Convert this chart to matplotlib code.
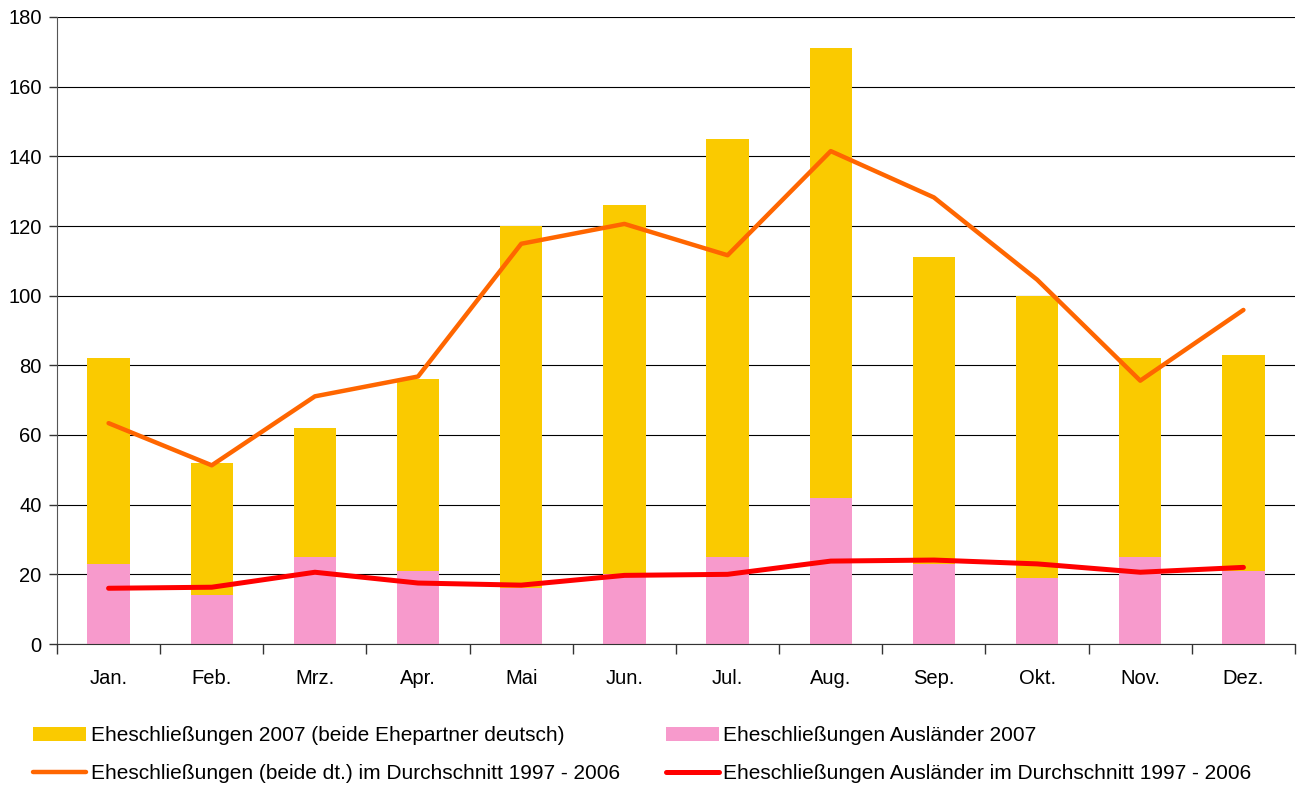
import numpy as np
import matplotlib
matplotlib.use('Agg')
import matplotlib.pyplot as plt

plt.rcParams['font.family'] = ['Liberation Sans', 'DejaVu Sans']

# Monate
monate = ['Jan.', 'Feb.', 'Mrz.', 'Apr.', 'Mai', 'Jun.', 'Jul.', 'Aug.', 'Sep.', 'Okt.', 'Nov.', 'Dez.']

# Eheschliessungen 2007
auslaender_2007 = [23, 14, 25, 21, 16, 20, 25, 42, 23, 19, 25, 21]
deutsch_2007 = [59, 38, 37, 55, 104, 106, 120, 129, 88, 81, 57, 62]

# Durchschnitt 1997 - 2006
deutsch_mittel = [63.4, 51.3, 71.1, 76.8, 114.9, 120.6, 111.6, 141.5, 128.2, 104.6, 75.6, 95.9]
auslaender_mittel = [16.0, 16.3, 20.6, 17.5, 16.9, 19.7, 20.0, 23.8, 24.1, 23.0, 20.6, 22.0]

yticks = list(range(0, 181, 20))

GELB = '#FACA00'
ROSA = '#F79ACC'
ORANGE = '#FF6600'
ROT = '#FF0000'

fig = plt.figure(figsize=(13.01, 7.87), dpi=100)
ax = fig.add_axes([57 / 1301, 1 - 644 / 787, 1238 / 1301, 627 / 787])

x = np.arange(len(monate))
breite = 0.41

ax.set_axisbelow(True)
ax.yaxis.grid(True, color='black', linewidth=0.8)

b1 = ax.bar(x, deutsch_2007, breite, bottom=auslaender_2007, color=GELB, zorder=2,
            label='Eheschließungen 2007 (beide Ehepartner deutsch)')
b2 = ax.bar(x, auslaender_2007, breite, color=ROSA, zorder=2,
            label='Eheschließungen Ausländer 2007')
l1, = ax.plot(x, deutsch_mittel, color=ORANGE, linewidth=3.2, zorder=3,
              solid_joinstyle='round', solid_capstyle='round',
              label='Eheschließungen (beide dt.) im Durchschnitt 1997 - 2006')
l2, = ax.plot(x, auslaender_mittel, color=ROT, linewidth=3.6, zorder=3,
              solid_joinstyle='round', solid_capstyle='round',
              label='Eheschließungen Ausländer im Durchschnitt 1997 - 2006')

ax.set_xlim(-0.5, len(monate) - 0.5)
ax.set_ylim(0, 180)
ax.set_yticks(yticks)
ax.set_xticks(x)
ax.set_xticklabels(monate)
ax.set_xticks(np.arange(-0.5, len(monate), 1), minor=True)
ax.tick_params(axis='x', which='major', length=0, pad=18, labelsize=14.5)
ax.tick_params(axis='x', which='minor', length=7, width=1, direction='out', color='#333333')
ax.tick_params(axis='y', length=6, width=1, color='#333333', labelsize=14.5, pad=5)

for s in ['top', 'right']:
    ax.spines[s].set_visible(False)
ax.spines['left'].set_color('#555555')
ax.spines['bottom'].set_color('#333333')

fig.legend(handles=[b1, l1, b2, l2], ncol=2, loc='upper left',
           bbox_to_anchor=(25 / 1301, 1 - 718 / 787), frameon=False,
           fontsize=15, handlelength=2.55, handleheight=0.67, handletextpad=0.2,
           columnspacing=2.2, labelspacing=0.9, borderaxespad=0)

fig.savefig('out.png', dpi=100)
